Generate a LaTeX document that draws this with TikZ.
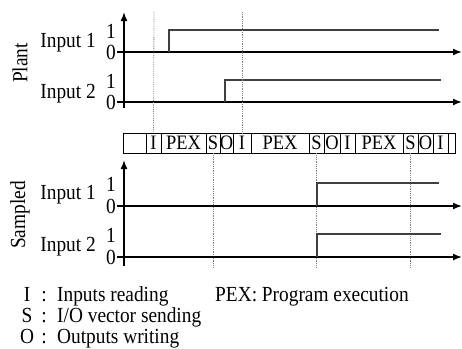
\documentclass[tikz,border=0pt]{standalone}
\usepackage{fontspec}
\setmainfont{Liberation Serif}[FakeStretch=0.9]
\usetikzlibrary{positioning,arrows.meta}

\begin{document}
\begin{tikzpicture}[x=1pt,y=-1pt,font=\fontsize{21.5}{24}\selectfont,
    axis/.style={line width=1.5pt,-{Latex[length=9pt,width=7pt]}},
    level/.style={line width=1.2pt,black!75},
    sync/.style={densely dotted,gray,line width=0.8pt},
    cell/.style={draw,line width=0.6pt,minimum height=20pt,inner sep=0pt,font=\fontsize{20.5}{22}\selectfont},
    tag/.style={anchor=east,inner sep=1pt}]
    \useasboundingbox (0,0) rectangle (462,348);

    % plant inputs
    \draw[axis] (124,108) -- (124,12);
    \draw[axis] (117,52) -- (462,52);
    \draw[axis] (117,102) -- (462,102);
    \draw[level] (169,52) -- (169,30) -- (439,30);
    \draw[level] (225,102) -- (225,80) -- (441,80);
    \node[tag] (p1one) at (117,31) {1};
    \node[tag] (p1zero) at (117,52) {0};
    \node[tag] (p2one) at (117,81) {1};
    \node[tag] (p2zero) at (117,102) {0};
    \node[anchor=base east,inner sep=0pt] (p1) at (96,47) {Input 1};
    \node[anchor=base east,inner sep=0pt] (p2) at (96,98) {Input 2};
    \node[rotate=90] (plant) at (20,63) {Plant};

    % PLC cycle
    \foreach \l/\r/\t [count=\i] in {123/146/{},146/161/I,161/206/PEX,206/220/S,220/233/O,233/251/I,251/309/PEX,309/324/S,324/340/O,340/355/I,355/403/PEX,403/418/S,418/433/O,433/448/I,448/455/{}}
    {
        \pgfmathsetmacro\w{\r-\l}
        \pgfmathsetmacro\m{(\r+\l)/2}
        \node[cell,minimum width=\w pt] (c\i) at (\m,143) {\t};
    }
    \coordinate (t2) at (154,12);
    \coordinate (t6) at (242,12);
    \draw[sync] (t2) -- (c2.north);
    \draw[sync] (t6) -- (c6.north);
    \foreach \i in {4,8,12}
        \draw[sync] (c\i.south) -- ++(0,115);

    % sampled inputs
    \draw[axis] (124,266) -- (124,160);
    \draw[axis] (117,206) -- (462,206);
    \draw[axis] (117,257) -- (462,257);
    \draw[level] (317,206) -- (317,183) -- (439,183);
    \draw[level] (317,257) -- (317,234) -- (441,234);
    \node[tag] (s1one) at (117,184) {1};
    \node[tag] (s1zero) at (117,206) {0};
    \node[tag] (s2one) at (117,235) {1};
    \node[tag] (s2zero) at (117,257) {0};
    \node[anchor=base east,inner sep=0pt] (s1) at (96,199) {Input 1};
    \node[anchor=base east,inner sep=0pt] (s2) at (96,251) {Input 2};
    \node[rotate=90] (sampled) at (20,215) {Sampled};

    % legend
    \foreach \k/\d/\y in {I/{Inputs reading}/301,S/{I/O vector sending}/322,O/{Outputs writing}/343}
    {
        \node[anchor=base,inner sep=0pt] (k\k) at (27,\y) {\k};
        \node[anchor=base,inner sep=0pt] at (44,\y) {:};
        \node[anchor=base west,inner sep=0pt] (d\k) at (57,\y) {\d};
    }
    \node[anchor=base west,inner sep=0pt] (dPEX) at (215,301) {PEX: Program execution};
\end{tikzpicture}
\end{document}
